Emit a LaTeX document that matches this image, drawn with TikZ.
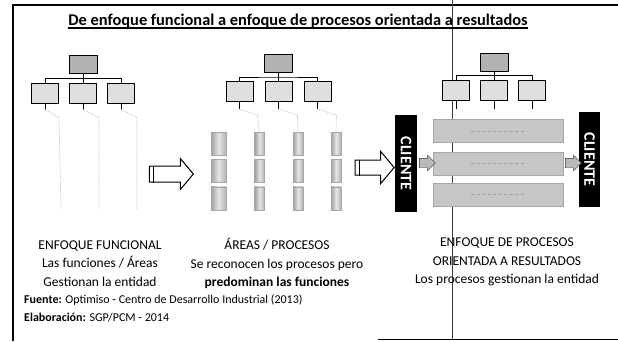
\documentclass[tikz,border=0pt]{standalone}
\usepackage{fontspec}
\setmainfont{Carlito}
\usetikzlibrary{shapes.arrows,positioning}

\begin{document}
\begin{tikzpicture}[
    x=1pt, y=-1pt,
    topbox/.style = {rectangle, draw, line width=1pt, fill=gray!60, minimum width=28pt, minimum height=18pt, inner sep=0pt},
    subbox/.style = {rectangle, draw, line width=1pt, fill=gray!25, minimum width=27pt, minimum height=20pt, inner sep=0pt},
    link/.style = {line width=0.8pt},
    dotline/.style = {gray!60, densely dotted, line width=0.7pt},
    areablock/.style = {rectangle, draw=gray!70, left color=gray!75, right color=gray!60, middle color=gray!20, minimum width=10pt, minimum height=23pt, inner sep=0pt},
    procbar/.style = {rectangle, draw=gray!70, fill=gray!45, minimum width=130pt, minimum height=23pt, inner sep=0pt},
    clientbar/.style = {rectangle, fill=black, text=white, font=\fontsize{16}{16}\selectfont\bfseries, inner sep=0pt},
    hollowarrow/.style = {single arrow, draw, line width=1pt, fill=white, inner xsep=0pt, single arrow tip angle=100},
    smallarrow/.style = {single arrow, draw=black!80, fill=gray!55, inner xsep=0pt, inner ysep=4.5pt, minimum height=16pt, single arrow head extend=3pt},
    lbl/.style = {align=center, inner sep=0pt, font=\fontsize{13.5}{18.5}\selectfont},
    note/.style = {anchor=west, inner sep=0pt, font=\fontsize{12}{18}\selectfont}
]
\useasboundingbox (0,0) rectangle (618,341);

% Frame
\draw[line width=1.5pt] (13,341) -- (13,5) -- (618,5);
\draw[line width=1pt] (378,339.5) -- (618,339.5);
\draw[black!75, line width=0.9pt] (452,0) -- (452,339.5);

% Title
\node[inner sep=0pt, anchor=base, font=\fontsize{16.4}{18}\selectfont\bfseries] (title) at (298,25)
    {De enfoque funcional a enfoque de procesos orientada a resultados};
\draw[line width=1.2pt] ([yshift=-3pt]title.base west) -- ([yshift=-3pt]title.base east);

% Enfoque funcional
\node[topbox] (fa) at (83,64) {};
\node[subbox] (fb2) [below=9pt of fa] {};
\node[subbox] (fb1) [left=10pt of fb2] {};
\node[subbox] (fb3) [right=10pt of fb2] {};
\draw[link] (fa) -- (fb2);
\draw[link] (fb1.north) |- ([yshift=-5pt]fa.south) -| (fb3.north);
\draw[link] (fb1.south) -- ++(0,6) coordinate (fs1);
\draw[link] (fb2.south) -- ++(0,6) coordinate (fs2);
\draw[link] (fb3.south) -- ++(0,6) coordinate (fs3);
\coordinate (fe1) at (61,210);
\coordinate (fe2) at (99,210);
\coordinate (fe3) at (137,210);
\draw[dotline] (fs1) -- ++(14,8) -- (fe1);
\draw[dotline] (fs2) -- ++(16,8) -- (fe2);
\draw[dotline] (fs3) -- ++(16,8) -- (fe3);

\node[hollowarrow, inner ysep=7.5pt, single arrow head extend=7.5pt, minimum height=44pt] (arr1) at (168,174) {};
\draw[link] ([xshift=5pt]arr1.before tail) -- ([xshift=5pt]arr1.after tail);

% Areas / procesos
\node[topbox] (pa) at (278.5,63.5) {};
\node[subbox] (pb2) [below=8pt of pa] {};
\node[subbox] (pb1) [left=11pt of pb2] {};
\node[subbox] (pb3) [right=11pt of pb2] {};
\draw[link] (pa) -- (pb2);
\draw[link] (pb1.north) |- ([yshift=-4pt]pa.south) -| (pb3.north);
\draw[link] (pb1.south) -- ++(0,7) coordinate (ps1);
\draw[link] (pb2.south) -- ++(0,7) coordinate (ps2);
\draw[link] (pb3.south) -- ++(0,7) coordinate (ps3);

\node[areablock, minimum width=15pt] (ar11) at (218.5,143.5) {};
\node[areablock, minimum width=15pt] (ar12) [below=4pt of ar11] {};
\node[areablock, minimum width=15pt] (ar13) [below=4pt of ar12] {};
\node[areablock] (ar21) at (259.5,143.5) {};
\node[areablock] (ar22) [below=4pt of ar21] {};
\node[areablock] (ar23) [below=4pt of ar22] {};
\node[areablock] (ar31) at (298,143.5) {};
\node[areablock] (ar32) [below=4pt of ar31] {};
\node[areablock] (ar33) [below=4pt of ar32] {};
\node[areablock] (ar41) at (336,143.5) {};
\node[areablock] (ar42) [below=4pt of ar41] {};
\node[areablock] (ar43) [below=4pt of ar42] {};
\draw[dotline] (ps1) -- ++(18,6) -- (ar21.north);
\draw[dotline] (ps2) -- ++(19,6) -- (ar31.north);
\draw[dotline] (ps3) -- ++(19,6) -- (ar41.north);

\node[hollowarrow, inner ysep=7pt, single arrow head extend=8.5pt, minimum height=39pt] (arr2) at (371.5,167.5) {};
\draw[link] ([xshift=5pt]arr2.before tail) -- ([xshift=5pt]arr2.after tail);

% Enfoque de procesos
\node[topbox] (ra) at (494,62) {};
\node[subbox] (rb2) [below=8pt of ra] {};
\node[subbox] (rb1) [left=10pt of rb2] {};
\node[subbox] (rb3) [right=10pt of rb2] {};
\draw[link] (ra) -- (rb2);
\draw[link] (rb1.north) |- ([yshift=-4pt]ra.south) -| (rb3.north);
\draw[link] (rb1.south) -- ++(0,8);
\draw[link] (rb2.south) -- ++(0,8);
\draw[link] (rb3.south) -- ++(0,8);

\node[clientbar, minimum width=22pt, minimum height=97pt] (cl1) at (406,163.5) {};
\node[clientbar, rotate=-90] at (cl1.center) {CLIENTE};
\node[procbar] (pr2) at (498,163.5) {};
\node[procbar] (pr1) [above=9pt of pr2] {};
\node[procbar] (pr3) [below=8pt of pr2] {};
\node[clientbar, minimum width=21pt, minimum height=95pt] (cl2) at (589.5,159.5) {};
\node[clientbar, rotate=-90] at (cl2.center) {CLIENTE};
\foreach \p in {pr1,pr2,pr3}
    \draw[gray!75, dash pattern=on 3pt off 2.5pt, line width=1pt] ([xshift=-27pt]\p.center) -- ([xshift=27pt]\p.center);
\node[smallarrow] (sa1) at (425,163) {};
\node[smallarrow] (sa2) at (571,163) {};

% Texts
\node[lbl] (t1) at (100,263.5) {ENFOQUE FUNCIONAL\\Las funciones / Áreas\\Gestionan la entidad};
\node[lbl] (t2) at (277,263.5) {ÁREAS / PROCESOS\\Se reconocen los procesos pero\\\textbf{predominan las funciones}};
\node[lbl] (t3) at (507,262) {ENFOQUE DE PROCESOS\\ORIENTADA A RESULTADOS\\Los procesos gestionan la entidad};

\node[note] (src) at (24,300) {\textbf{Fuente:} Optimiso - Centro de Desarrollo Industrial (2013)};
\node[note] (elab) at (24,318) {\textbf{Elaboración:} SGP/PCM - 2014};

\end{tikzpicture}
\end{document}
